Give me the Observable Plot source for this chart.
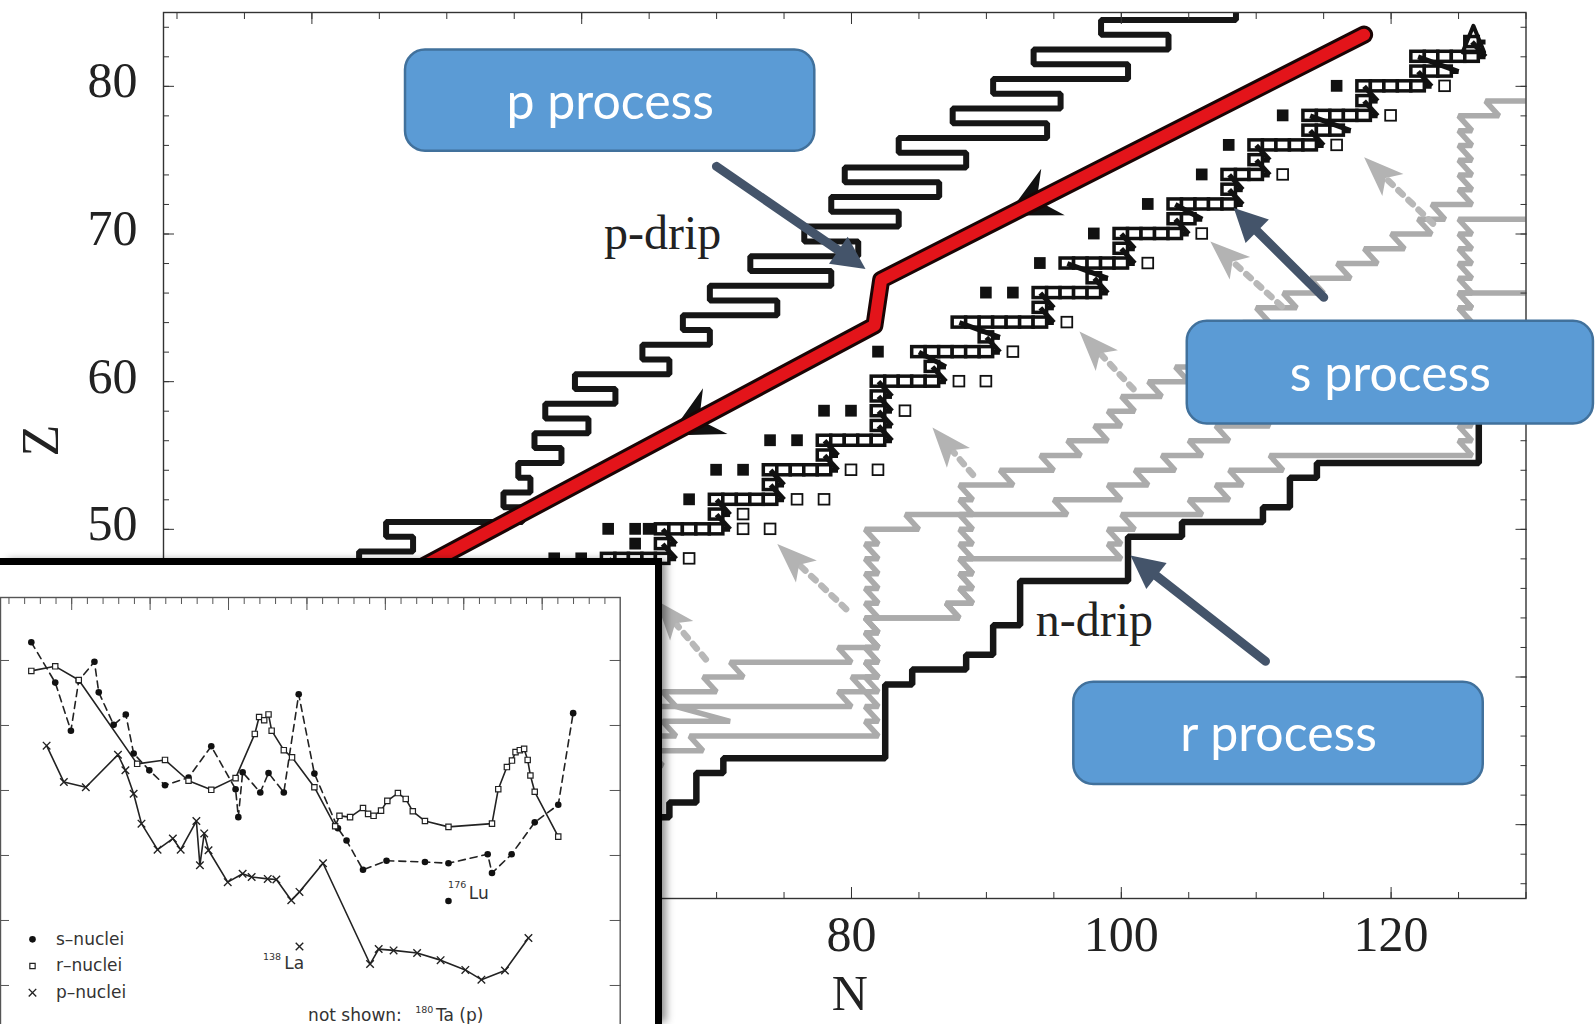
<!DOCTYPE html>
<html>
<head>
<meta charset="utf-8">
<script src="https://cdn.jsdelivr.net/npm/d3@7"></script>
<script src="https://cdn.jsdelivr.net/npm/@observablehq/plot@0.6"></script>
<style>
  html, body { margin:0; padding:0; background:#fff; }
  body { width:1595px; height:1024px; position:relative; overflow:hidden; }
  #main { position:absolute; left:0; top:0; }
  #inset { position:absolute; left:0; top:558px; width:655px; height:459px;
           border-top:7px solid #000; border-right:7px solid #000; background:#fff;
           overflow:hidden; box-shadow: 6px 0 8px -2px rgba(0,0,0,0.45); }
  svg { display:block; }
</style>
</head>
<body>
<div id="main"></div>
<div id="inset"></div>
<script>
// ================= MAIN CHART DATA (N = neutron number, Z = proton number) =================
const xMinorTicks = [30,35,40,45,50,55,60,65,70,75,80,85,90,95,100,105,110,115,120,125,130];
const xMajorTicks = [40,60,80,100,120];
const xTickLabels = [80,100,120];
const yMinorTicks = [26,28,30,32,34,36,38,40,42,44,46,48,50,52,54,56,58,60,62,64,66,68,70,72,74,76,78,80,82,84];
const yMajorTicks = [30,40,50,60,70,80];
const yTickLabels = [50,60,70,80];

// p-drip line: boundary N for each Z row
const pdripZ = [85,84,83,82,81,80,79,78,77,76,75,74,73,72,71,70,69,68,67,66,65,64,63,62,61,60,59,58,57,56,55,54,53,52,51,50,49,48,47,46];
const pdripN = [108.5,98.5,103.5,93.5,100.5,90.5,95.5,87.5,94.5,83.5,88.5,79.5,86.5,78.5,83.5,76.5,80.5,72.5,78.5,69.5,74.5,67.5,69.5,64.5,66.5,59.5,62.5,57.3,60.5,56.5,58.5,55.3,56.2,54.2,55.6,45.5,47.5,43.5,45,41.5];

// n-drip line vertices
const ndripN = [64.5,64.5,66.5,66.5,68.5,68.5,70.5,70.5,82.5,82.5,84.5,84.5,88.5,88.5,90.5,90.5,92.5,92.5,100.5,100.5,104.5,104.5,110.5,110.5,112.5,112.5,114.5,114.5,126.5,126.5];
const ndripZ = [25,30.5,30.5,31.5,31.5,33.5,33.5,34.5,34.5,39.5,39.5,40.5,40.5,41.5,41.5,43.5,43.5,46.5,46.5,49.5,49.5,50.5,50.5,51.5,51.5,53.5,53.5,54.5,54.5,58];

// s-process path: rows of stable nuclei (first and last N per Z)
const sRowZ     = [46,47,48,49,50,51,52,53,54,55,56,57,58,59,60,61,62,63,64,65,66,67,68,69,70,71,72,73,74,75,76,77,78,79,80,81,82,83];
const sRowStart = [58,60,62,66,66,70,70,74,74,78,78,82,82,82,82,86,85,90,88,94,94,98,96,100,100,104,104,108,108,110,110,114,114,118,118,122,122,126];
const sRowEnd   = [62,62,66,66,70,70,74,74,78,78,82,82,82,82,86,86,90,90,94,94,98,98,100,100,104,105,108,108,110,110,114,116,118,118,122,124,126,126];
// Pb-Bi cycle at the end of the s path
const cycleN = [125.3,126.1,126.9,125.3];
const cycleZ = [82.3,84.1,82.3,82.3];
// p-only nuclei (filled squares)
const pOnlyN = [58,60,64,62,64,65,68,70,72,74,76,78,80,82,90,92,94,98,102,106,108,112,116];
const pOnlyZ = [48,48,49,50,50,50,52,54,54,56,56,58,58,62,66,66,68,70,72,74,76,78,80];
// r-only nuclei (open squares)
const rOnlyN = [68,72,74,72,76,78,80,82,84,88,90,92,96,102,106,112,116,120,124];
const rOnlyZ = [48,50,50,51,52,52,54,54,58,60,60,62,64,68,70,74,76,78,80];

// p-process (red) path and its arrow heads
const redN = [38,81.7,82.2,118];
const redZ = [42.5,63.8,66.9,83.5];
const redArrowN = [91.5,66.5];
const redArrowZ = [71.25,56.35];

// r-process paths (gray): per Z row, N where the row starts and ends
const grayAZ = [31,32,33,34,35,36,37,38,39,40,41,42,43,44,45,46,47,48,49,50,51,52,53,54,55,56,57,58,59,60,61,62,63,64,65,66];
const grayAS = [58,61,62,64,65,68,81,81,81,81,81,81,81,81,87,88,88,88,99,99,100,105,107,108,111,125,125,125,125,125,125,125,125,125,125,125];
const grayAE = [62,63,65,66,69,82,82,82,82,82,82,82,82,88,89,89,89,100,100,101,106,108,109,112,126,126,126,126,126,126,126,126,126,126,126,130];
const grayBZ = [33,34,35,36,37,38,39,40,41,42,43,44,45,46,47,48,49,50,51,52,53,54,55,56,57,58,59,60,61,62,63,64,65,66,67,68,69,70,71];
const grayBS = [58,60,62,64,66,67,79,80,81,81,81,81,81,81,81,81,81,81,84,95,99,101,103,105,107,110,113,117,121,125,125,125,125,125,125,125,125,125,125];
const grayBE = [61,63,65,67,71,80,81,82,82,82,82,82,82,82,82,82,82,85,96,100,102,104,106,108,111,114,118,122,126,126,126,126,126,126,126,126,126,126,130];
const grayCZ = [35,36,37,38,39,40,41,42,43,44,45,46,47,48,49,50,51,52,53,54,55,56,57,58,59,60,61,62,63,64,65,66,67,68,69,70,71,72,73,74,75,76,77,78,79];
const grayCS = [58,60,62,64,66,69,71,79,81,81,87,88,88,88,88,88,88,88,88,91,94,96,98,99,100,102,104,106,108,109,110,112,114,116,118,120,122,123,125,125,125,125,125,125,127];
const grayCE = [61,63,65,67,70,72,80,82,82,88,89,89,89,89,89,89,89,89,92,95,97,99,100,101,103,105,107,109,110,111,113,115,117,119,121,123,124,126,126,126,126,126,126,128,130];

// gray dotted beta-decay arrows (tail -> tip)
const grayArrowTailN = [69.2,79.6,89.0,100.9,111.9,123.1];
const grayArrowTailZ = [41.2,44.6,53.7,59.5,65.1,70.7];
const grayArrowTipN  = [65.5,74.5,86.0,96.9,106.6,118.0];
const grayArrowTipZ  = [45.2,49.0,56.9,63.4,69.5,75.2];

// text labels in the chart
const dripLabels = ["p-drip","n-drip"];
const dripLabelN = [66.0,98.0];
const dripLabelZ = [70.0,43.8];

// call-outs
const calloutText = ["p process","s process","r process"];
const calloutN1 = [46.94,104.89,96.48];
const calloutN2 = [77.28,135.0,126.83];
const calloutZ1 = [75.60,57.14,32.72];
const calloutZ2 = [82.46,64.09,39.65];
const calloutTailN = [69.99,115.01,110.69];
const calloutTailZ = [74.58,65.71,41.07];
const calloutTipN  = [81.04,108.34,100.68];
const calloutTipZ  = [67.63,71.76,48.22];

// ================= INSET DATA (mass number A, log abundance) =================
const insetXMinor = [64,68,72,76,80,84,88,92,96,100,104,108,112,116,120,124,128,132,136,140,144,148,152,156,160,164,168,172,176,180,184,188,192,196,200,204,208,212,216];
const insetXMajor = [80,100,120,140,160,180,200];
const insetYTicks = [0,-1,-2,-3,-4,-5];
const sA = [69.7,75.8,79.8,81.8,85.8,86.9,90.7,93.8,95.8,99.8,103.8,109.8,115.6,121.8,122.5,123.6,128.1,130.2,134.1,137.9,141.9,147.9,150.1,154.3,160.3,170.1,176.1,186.1,187.2,192.2,198.1,204.1,207.9];
const sV = [0.28,-0.34,-1.08,-0.31,-0.02,-0.49,-0.99,-0.83,-1.43,-1.69,-1.92,-1.80,-1.32,-1.98,-2.41,-1.72,-2.03,-1.73,-2.03,-0.52,-1.74,-2.58,-2.77,-3.22,-3.08,-3.10,-3.12,-2.98,-3.27,-2.98,-2.49,-2.22,-0.81];
const rA = [69.7,75.8,81.8,96.7,103.8,109.8,115.6,121.8,126.7,127.8,129.1,130.2,131.0,134.1,136.2,141.9,147.2,148.3,151.0,154.3,155.6,157.0,158.9,160.5,163.2,165.2,167.0,170.1,176.1,187.2,188.8,191.0,192.3,193.2,194.3,195.4,196.3,197.0,198.1,204.1];
const rV = [-0.16,-0.09,-0.30,-1.59,-1.53,-1.85,-1.99,-1.81,-1.13,-0.87,-0.92,-0.83,-1.08,-1.38,-1.49,-1.95,-2.55,-2.39,-2.41,-2.27,-2.36,-2.39,-2.31,-2.16,-2.04,-2.13,-2.32,-2.47,-2.56,-2.51,-1.98,-1.64,-1.54,-1.41,-1.38,-1.36,-1.53,-1.77,-2.02,-2.71];
const pA = [73.6,78.0,83.6,91.8,93.7,95.8,97.8,101.9,105.8,107.8,111.8,112.7,113.8,114.9,119.8,123.6,125.9,130.0,132.2,136.0,138.1,144.1,156.1,158.3,162.1,168.1,174.1,180.4,184.5,190.5,196.5];
const pV = [-1.31,-1.87,-1.95,-1.45,-1.69,-2.05,-2.51,-2.91,-2.74,-2.91,-2.47,-3.15,-2.66,-2.92,-3.41,-3.28,-3.33,-3.36,-3.37,-3.69,-3.56,-3.12,-4.67,-4.44,-4.46,-4.50,-4.61,-4.76,-4.91,-4.77,-4.27];
const lu176 = {A:176.1, v:-3.70};
const la138 = {A:138.1, v:-4.40};
const legendLabels = ["s–nuclei","r–nuclei","p–nuclei"];
const legendV = [-4.29,-4.70,-5.11];

// ================= geometry helpers =================
const X0 = 163, X1 = 1525.5, Y0 = 12, Y1 = 898;
const xDom = [29,130], yDom = [25,85];
const kx = (X1 - X0) / (xDom[1] - xDom[0]);
const ky = (Y1 - Y0) / (yDom[1] - yDom[0]);
function bearing(n1, z1, n2, z2) {
  const dx = (n2 - n1) * kx, dy = -(z2 - z1) * ky;
  return Math.atan2(dx, -dy) * 180 / Math.PI;
}
function headShape(wRatio, notch) {
  return { draw(ctx, l) {
    const w = l * wRatio;
    ctx.moveTo(0, -l); ctx.lineTo(w, 0); ctx.lineTo(0, -l * notch); ctx.lineTo(-w, 0); ctx.closePath();
  }};
}

// ================= derived tables =================
const pdripPts = pdripZ.flatMap((z, i) => [{N: pdripN[i], Z: z + 0.5}, {N: pdripN[i], Z: z - 0.5}]);
const ndripPts = ndripN.map((n, i) => ({N: n, Z: ndripZ[i]}));
const sRows = sRowZ.map((z, i) => ({Z: z, start: sRowStart[i], end: sRowEnd[i]}));
const sCells = sRows.flatMap(r => d3.range(r.start, r.end + 1).map(n => ({N: n, Z: r.Z})));
const sLinks = sRows.slice(0, -1).map((r, i) => ({n1: r.end + 1, z1: r.Z, n2: sRows[i + 1].start, z2: sRows[i + 1].Z}));
const cyclePts = cycleN.map((n, i) => ({N: n, Z: cycleZ[i]}));
const pOnly = pOnlyN.map((n, i) => ({N: n, Z: pOnlyZ[i]}));
const rOnly = rOnlyN.map((n, i) => ({N: n, Z: rOnlyZ[i]}));
const redPts = redN.map((n, i) => ({N: n, Z: redZ[i]}));
const redArrows = [
  {N: redArrowN[0], Z: redArrowZ[0], rot: bearing(redN[3], redZ[3], redN[2], redZ[2])},
  {N: redArrowN[1], Z: redArrowZ[1], rot: bearing(redN[1], redZ[1], redN[0], redZ[0])}
];
const grayPts = [];
[[grayAZ, grayAS, grayAE], [grayBZ, grayBS, grayBE], [grayCZ, grayCS, grayCE]].forEach(([zs, ss, es], k) => {
  zs.forEach((z, i) => { grayPts.push({N: ss[i], Z: z, k}, {N: es[i], Z: z, k}); });
});
const grayArrows = grayArrowTipN.map((n, i) => ({
  tipN: n, tipZ: grayArrowTipZ[i], tailN: grayArrowTailN[i], tailZ: grayArrowTailZ[i],
  rot: bearing(grayArrowTailN[i], grayArrowTailZ[i], n, grayArrowTipZ[i])
}));
const dripText = dripLabels.map((t, i) => ({t, N: dripLabelN[i], Z: dripLabelZ[i]}));
const callouts = calloutText.map((t, i) => ({
  t, n1: calloutN1[i], n2: calloutN2[i], z1: calloutZ1[i], z2: calloutZ2[i],
  tailN: calloutTailN[i], tailZ: calloutTailZ[i], tipN: calloutTipN[i], tipZ: calloutTipZ[i],
  rot: bearing(calloutTailN[i], calloutTailZ[i], calloutTipN[i], calloutTipZ[i])
}));

const serif = "Liberation Serif, Times New Roman, serif";
const blank = () => "";

const mainPlot = Plot.plot({
  width: 1595, height: 1024,
  marginLeft: X0, marginRight: 1595 - X1, marginTop: Y0, marginBottom: 1024 - Y1,
  x: {domain: xDom, label: null},
  y: {domain: yDom, label: null},
  style: {background: "#fff", color: "#222", overflow: "visible"},
  marks: [
    // r-process paths (gray)
    Plot.line(grayPts, {x: "N", y: "Z", z: "k", stroke: "#ababab", strokeWidth: 5.5, strokeLinejoin: "miter", clip: true}),
    // dotted decay arrows
    Plot.arrow(grayArrows, {x1: "tailN", y1: "tailZ", x2: "tipN", y2: "tipZ", stroke: "#b8b8b8", strokeWidth: 6.5, strokeDasharray: "6,8", headLength: 0, insetEnd: 30}),
    Plot.vector(grayArrows, {x: "tipN", y: "tipZ", rotate: "rot", length: 40, anchor: "end", shape: headShape(0.38, 0.25), fill: "#b3b3b3", stroke: "none"}),
    // neutron drip line
    Plot.line(ndripPts, {x: "N", y: "Z", stroke: "#161616", strokeWidth: 6.5, strokeLinejoin: "miter"}),
    // proton drip line
    Plot.line(pdripPts, {x: "N", y: "Z", stroke: "#161616", strokeWidth: 6, strokeLinejoin: "miter", clip: true}),
    // s-process path
    Plot.link(sRows, {x1: "start", x2: d => d.end + 1, y1: "Z", y2: "Z", stroke: "#111", strokeWidth: 5}),
    Plot.rect(sCells, {x1: d => d.N - 0.5, x2: d => d.N + 0.5, y1: d => d.Z - 0.34, y2: d => d.Z + 0.34, fill: "#fff", stroke: "#111", strokeWidth: 3.5}),
    Plot.link(sLinks, {x1: "n1", y1: "z1", x2: "n2", y2: "z2", stroke: "#111", strokeWidth: 5}),
    Plot.line(cyclePts, {x: "N", y: "Z", stroke: "#111", strokeWidth: 4}),
    Plot.rect(pOnly, {x1: d => d.N - 0.43, x2: d => d.N + 0.43, y1: d => d.Z - 0.4, y2: d => d.Z + 0.4, fill: "#111"}),
    Plot.rect(rOnly, {x1: d => d.N - 0.4, x2: d => d.N + 0.4, y1: d => d.Z - 0.36, y2: d => d.Z + 0.36, fill: "#fff", stroke: "#111", strokeWidth: 1.8}),
    // p-process (red) path
    Plot.vector(redArrows, {x: "N", y: "Z", rotate: "rot", length: 52, anchor: "end", shape: headShape(0.5, 0.35), fill: "#111", stroke: "none"}),
    Plot.line(redPts, {x: "N", y: "Z", stroke: "#1a0505", strokeWidth: 18, strokeLinejoin: "round"}),
    Plot.line(redPts, {x: "N", y: "Z", stroke: "#e3141a", strokeWidth: 12, strokeLinejoin: "round"}),
    // drip labels
    Plot.text(dripText, {x: "N", y: "Z", text: "t", fontSize: 48, fontFamily: serif, fill: "#222"}),
    // frame and axes
    Plot.frame({stroke: "#333", strokeWidth: 1.4}),
    Plot.axisX({anchor: "bottom", ticks: xMinorTicks, tickSize: -6, tickFormat: blank, stroke: "#333", label: null}),
    Plot.axisX({anchor: "bottom", ticks: xMajorTicks, tickSize: -11, tickFormat: blank, stroke: "#333", label: null}),
    Plot.axisX({anchor: "top", ticks: xMinorTicks, tickSize: -6, tickFormat: blank, stroke: "#333", label: null}),
    Plot.axisX({anchor: "top", ticks: xMajorTicks, tickSize: -11, tickFormat: blank, stroke: "#333", label: null}),
    Plot.axisY({anchor: "left", ticks: yMinorTicks, tickSize: -6, tickFormat: blank, stroke: "#333", label: null}),
    Plot.axisY({anchor: "left", ticks: yMajorTicks, tickSize: -11, tickFormat: blank, stroke: "#333", label: null}),
    Plot.axisY({anchor: "right", ticks: yMinorTicks, tickSize: -6, tickFormat: blank, stroke: "#333", label: null}),
    Plot.axisY({anchor: "right", ticks: yMajorTicks, tickSize: -11, tickFormat: blank, stroke: "#333", label: null}),
    Plot.axisX({anchor: "bottom", ticks: xTickLabels, tickSize: 0, tickPadding: 17, fontSize: 50, fontFamily: serif, label: null}),
    Plot.axisY({anchor: "left", ticks: yTickLabels, tickSize: 0, tickPadding: 26, dy: -5, fontSize: 50, fontFamily: serif, label: null}),
    Plot.text(["N"], {frameAnchor: "bottom", text: d => d, dx: 5, dy: 111, fontSize: 50, fontFamily: serif, fill: "#222"}),
    Plot.text(["Z"], {frameAnchor: "left", text: d => d, dx: -122, dy: 1, rotate: -90, fontSize: 52, fontFamily: serif, fill: "#222"}),
    // call-out boxes and arrows
    Plot.rect(callouts, {x1: "n1", x2: "n2", y1: "z1", y2: "z2", rx: 20, fill: "#5b9bd5", stroke: "#41719c", strokeWidth: 2.5}),
    Plot.text(callouts, {x: d => (d.n1 + d.n2) / 2, y: d => (d.z1 + d.z2) / 2, text: "t", fill: "#fff", fontSize: 50, fontFamily: "Lato, Open Sans, sans-serif", dy: 2}),
    Plot.arrow(callouts, {x1: "tailN", y1: "tailZ", x2: "tipN", y2: "tipZ", stroke: "#44546a", strokeWidth: 9, headLength: 0, insetEnd: 22}),
    Plot.vector(callouts, {x: "tipN", y: "tipZ", rotate: "rot", length: 33, anchor: "end", shape: headShape(0.5, 0), fill: "#44546a", stroke: "none"})
  ]
});
document.getElementById("main").appendChild(mainPlot);

// ================= INSET =================
const sNuc = sA.map((a, i) => ({A: a, v: sV[i]}));
const rNuc = rA.map((a, i) => ({A: a, v: rV[i]}));
const pNuc = pA.map((a, i) => ({A: a, v: pV[i]}));
const legend = legendLabels.map((t, i) => ({t, v: legendV[i]}));
const sans = "DejaVu Sans, Verdana, sans-serif";

const insetPlot = Plot.plot({
  width: 655, height: 466,
  marginLeft: 0, marginRight: 35.3, marginTop: 32, marginBottom: 0,
  x: {domain: [61.84, 219.9], label: null},
  y: {domain: [-5.708, 0.969], label: null},
  style: {background: "#fff", color: "#333", overflow: "visible"},
  marks: [
    Plot.frame({stroke: "#555", strokeWidth: 1.4}),
    Plot.axisX({anchor: "top", ticks: insetXMinor, tickSize: -6, tickFormat: blank, stroke: "#555", label: null}),
    Plot.axisX({anchor: "top", ticks: insetXMajor, tickSize: -12, tickFormat: blank, stroke: "#555", label: null}),
    Plot.axisY({anchor: "right", ticks: insetYTicks, tickSize: -11, tickFormat: blank, stroke: "#555", label: null}),
    Plot.axisY({anchor: "left", ticks: insetYTicks, tickSize: -9, tickFormat: blank, stroke: "#555", label: null}),
    Plot.line(sNuc, {x: "A", y: "v", stroke: "#222", strokeWidth: 1.6, strokeDasharray: "7,5"}),
    Plot.line(rNuc, {x: "A", y: "v", stroke: "#222", strokeWidth: 1.6}),
    Plot.line(pNuc, {x: "A", y: "v", stroke: "#222", strokeWidth: 1.6}),
    Plot.dot(sNuc, {x: "A", y: "v", r: 3.3, fill: "#111"}),
    Plot.dot(rNuc, {x: "A", y: "v", symbol: "square", r: 3, fill: "#fff", stroke: "#222", strokeWidth: 1.2}),
    Plot.dot(pNuc, {x: "A", y: "v", symbol: "times", r: 3.5, stroke: "#222", strokeWidth: 1.4}),
    Plot.dot([lu176], {x: "A", y: "v", r: 3.3, fill: "#111"}),
    Plot.dot([la138], {x: "A", y: "v", symbol: "times", r: 3.5, stroke: "#222", strokeWidth: 1.4}),
    Plot.text([{A: 176.0, v: -3.45, t: "176"}, {A: 128.8, v: -4.56, t: "138"}, {A: 167.6, v: -5.38, t: "180"}],
      {x: "A", y: "v", text: "t", textAnchor: "start", fontSize: 9.5, fontFamily: sans, fill: "#333"}),
    Plot.text([{A: 181.3, v: -3.58, t: "Lu"}, {A: 134.2, v: -4.66, t: "La"}, {A: 172.9, v: -5.47, t: "Ta (p)"}, {A: 140.3, v: -5.47, t: "not shown:"}],
      {x: "A", y: "v", text: "t", textAnchor: "start", fontSize: 17, fontFamily: sans, fill: "#333"}),
    // legend
    Plot.dot([legend[0]], {x: () => 70.0, y: "v", r: 3.3, fill: "#111"}),
    Plot.dot([legend[1]], {x: () => 70.0, y: "v", symbol: "square", r: 3, fill: "#fff", stroke: "#222", strokeWidth: 1.2}),
    Plot.dot([legend[2]], {x: () => 70.0, y: "v", symbol: "times", r: 3.5, stroke: "#222", strokeWidth: 1.4}),
    Plot.text(legend, {x: () => 76.0, y: "v", text: "t", textAnchor: "start", fontSize: 17, fontFamily: sans, fill: "#333"})
  ]
});
document.getElementById("inset").appendChild(insetPlot);
</script>
</body>
</html>
